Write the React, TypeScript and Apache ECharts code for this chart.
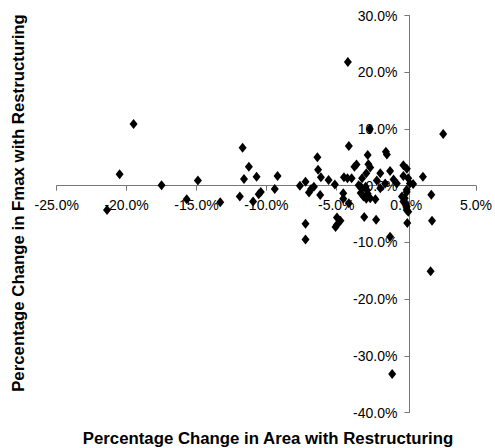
import React, { useEffect, useRef } from "react";
import * as echarts from "echarts";

// Percentage change in area (x, %) and in Fmax (y, %) with restructuring
const areaChange: number[] = [
  -21.4, -20.5, -19.5, -17.5, -15.7, -14.9, -13.3,
  -11.9, -11.7, -11.6, -11.25, -10.95, -10.7, -10.55, -10.4, -9.4, -9.2,
  -7.6, -7.2, -7.2, -7.2, -6.95, -6.8, -6.6, -6.35, -6.3, -6.15, -6.1, -5.55, -5.1,
  -5.05, -4.95, -4.7, -4.95, -4.5, -4.1,
  -4.45, -4.2, -4.1, -4.17, -4.5, -3.9,
  -3.7, -3.55, -3.4, -3.25, -3.15, -3.25, -3.05, -3.15, -3.0,
  -2.9, -2.85, -2.85, -2.8, -2.75, -2.75, -2.7, -2.6, -2.57, -2.57, -2.2, -2.15, -2.1,
  -1.85, -1.85, -1.5, -1.45, -1.38, -1.15, -1.15, -1.0, -0.9, -0.67,
  -0.2, 0.05, -0.2, 0.15, 0.27, 0.5, 0.04, 0.04, -0.3, -0.1, -0.2, -0.05, 0.04, 0.04, 0.15, 0.08,
  1.2, 1.8, 1.85, 1.75, 2.65,
];
const fmaxChange: number[] = [
  -4.3, 2.0, 10.9, 0.1, -2.4, 0.9, -2.9,
  -1.9, 6.7, 1.2, 3.35, -2.8, 1.6, -1.5, -1.1, -0.6, 1.7,
  0.0, 0.7, -6.7, -9.5, -1.2, -0.6, -0.2, 5.0, 2.8, -1.65, 1.5, 1.0, 0.2,
  -7.3, -5.6, -6.2, -6.9, -2.3, -3.1,
  1.5, 1.3, 7.0, 21.8, -1.35, 1.3,
  3.35, 3.75, 0.1, -0.2, -0.5, -1.3, -1.9, 1.3, -5.5,
  -0.2, 2.2, -2.3, -0.8, 5.4, -1.4, 3.8, 10.0, 3.2, -2.2, -2.4, -6.0, 0.9,
  2.2, -0.45, 0.4, 6.0, 5.5, 2.6, -9.0, -33.2, 1.1, 0.4,
  3.6, 3.0, 1.7, 1.3, 0.4, 0.3, -0.7, -1.1, -1.9, -2.2, -2.8, -3.2, -3.7, -4.3, -4.6, -6.6,
  1.6, -1.6, -6.2, -15.1, 9.1,
];

const xMin = -25, xMax = 5, xStep = 5;
const yMin = -40, yMax = 30, yStep = 10;

const xTitle = "Percentage Change in Area with Restructuring";
const yTitle = "Percentage Change in Fmax with Restructuring";

const W = 495, H = 448;
const GRID = { left: 56.7, right: 15, top: 15.6, bottom: 35.5 };

export default function App() {
  const ref = useRef<HTMLDivElement>(null);
  useEffect(() => {
    if (!ref.current) return;
    const chart = echarts.init(ref.current, null, { renderer: "svg" });
    const points = areaChange.map((x, i) => [x, fmaxChange[i]]);
    const font = "'Liberation Sans', Arial, sans-serif";
    const axisColor = "#777777";
    const gw = W - GRID.left - GRID.right;
    const gh = H - GRID.top - GRID.bottom;
    // shift axes so they cross at the origin
    const xAxisOffset = -((0 - yMin) / (yMax - yMin)) * gh;
    const yAxisOffset = -((0 - xMin) / (xMax - xMin)) * gw;
    chart.setOption({
      animation: false,
      backgroundColor: "#ffffff",
      grid: { ...GRID, containLabel: false },
      xAxis: {
        type: "value",
        min: xMin,
        max: xMax,
        interval: xStep,
        position: "bottom",
        offset: xAxisOffset,
        splitLine: { show: false },
        axisLine: { onZero: false, lineStyle: { color: axisColor, width: 1 } },
        axisTick: { show: true, length: 5, inside: false, lineStyle: { color: axisColor } },
        axisLabel: {
          margin: 12,
          color: "#000",
          fontFamily: font,
          fontSize: 14,
          formatter: (v: number) => v.toFixed(1) + "%",
        },
      },
      yAxis: {
        type: "value",
        min: yMin,
        max: yMax,
        interval: yStep,
        position: "left",
        offset: yAxisOffset,
        splitLine: { show: false },
        axisLine: { onZero: false, lineStyle: { color: axisColor, width: 1 } },
        axisTick: { show: true, length: 5, inside: false, lineStyle: { color: axisColor } },
        axisLabel: {
          margin: 12,
          color: "#000",
          fontFamily: font,
          fontSize: 14,
          formatter: (v: number) => v.toFixed(1) + "%",
        },
      },
      series: [
        {
          type: "scatter",
          data: points,
          symbol: "diamond",
          symbolSize: [8, 10],
          itemStyle: { color: "#000", opacity: 1 },
          z: 5,
        },
      ],
      graphic: [
        {
          type: "text",
          x: 268,
          y: 438,
          style: {
            text: xTitle,
            fontFamily: font,
            fontWeight: "bold",
            fontSize: 16.8,
            fill: "#000",
            textAlign: "center",
            textVerticalAlign: "middle",
          },
        },
        {
          type: "text",
          x: 18.5,
          y: 203,
          rotation: Math.PI / 2,
          style: {
            text: yTitle,
            fontFamily: font,
            fontWeight: "bold",
            fontSize: 16.8,
            fill: "#000",
            textAlign: "center",
            textVerticalAlign: "middle",
          },
        },
      ],
    });
    return () => chart.dispose();
  }, []);
  return (
    <div
      ref={ref}
      style={{ position: "fixed", left: 0, top: 0, width: W, height: H, background: "#fff" }}
    />
  );
}
